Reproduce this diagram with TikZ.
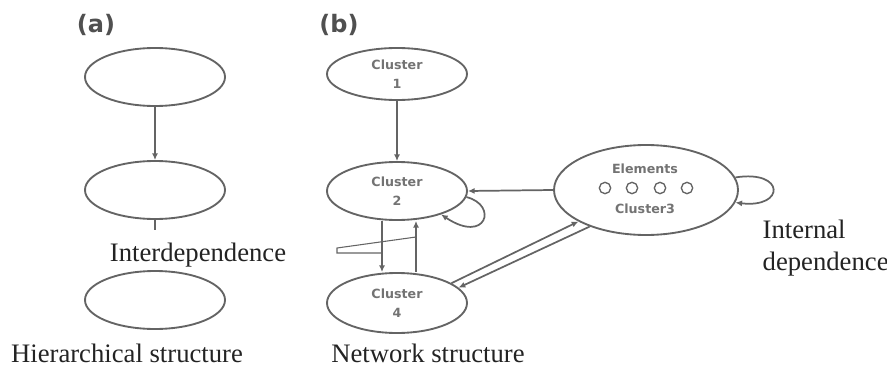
\documentclass[tikz,border=0pt]{standalone}
\usepackage{fontspec}
\setmainfont{Liberation Serif}
\newfontfamily\labelsans{DejaVu Sans}
\usepackage{xcolor}
\usetikzlibrary{shapes.geometric,arrows.meta}
\definecolor{edgegray}{RGB}{100,100,100}
\definecolor{inkgray}{RGB}{35,35,35}
\definecolor{tagcolor}{RGB}{80,80,80}
\definecolor{softgray}{RGB}{115,115,115}

\tikzset{
  cluster/.style={ellipse, draw=edgegray, line width=1.4pt, inner sep=0pt,
    minimum width=105pt, minimum height=43.5pt, align=center,
    font=\labelsans\bfseries\fontsize{9.5}{11}\selectfont, text=softgray},
  link/.style={-{Latex[length=5pt,width=4.5pt]}, line width=1.3pt, draw=edgegray},
  caption/.style={font=\fontsize{20}{24}\selectfont, text=inkgray, anchor=base},
  panel/.style={font=\labelsans\bfseries\fontsize{18}{21}\selectfont, text=tagcolor},
  element/.style={circle, draw=edgegray, line width=1pt, minimum size=8.5pt, inner sep=0pt},
  intext/.style={font=\labelsans\bfseries\fontsize{9.5}{11}\selectfont, text=softgray}
}

\begin{document}
\begin{tikzpicture}[x=0.75pt, y=-0.75pt]
  \useasboundingbox (0,0) rectangle (887,378);

  % (a) hierarchical structure
  \node[panel] (tagA) at (96,25) {(a)};
  \node[cluster] (h1) at (155,77) {};
  \node[cluster] (h2) at (155,190) {};
  \node[cluster] (h3) at (155,300) {};
  \coordinate (hstub) at (155,230);
  \draw[link] (h1) -- (h2);
  \draw[line width=1.3pt, draw=edgegray] (h2) -- (hstub);

  % (b) network structure
  \node[panel] (tagB) at (339,25) {(b)};
  \node[cluster, minimum height=39pt] (c1) at (397,74) {Cluster\\[3pt]1};
  \node[cluster] (c2) at (397,191) {Cluster\\[3pt]2};
  \node[cluster, minimum height=45pt] (c4) at (397,303) {Cluster\\[3pt]4};

  % Cluster 3 with its elements
  \node[cluster, minimum width=138pt, minimum height=67.5pt] (c3) at (646,190) {};
  \node[intext] (elemtxt) at (645,169) {Elements};
  \foreach \i/\x in {1/605,2/632,3/660,4/687}
    \node[element] (e\i) at (\x,188) {};
  \node[intext] (c3name) at (645,209) {Cluster3};

  % Links between clusters
  \draw[link] (c1) -- (c2);
  \draw[link] ([xshift=-11.25pt]c2.south) -- ([xshift=-11.25pt]c4.north);
  \draw[link] ([xshift=14.25pt]c4.north) -- ([xshift=14.25pt]c2.south);
  \draw[link] (c3.west) -- (c2.east);
  \draw[link] (c4.20) -- (c3.205);
  \draw[link] (c3.213) -- (c4.14);

  % Loops
  \draw[link] (c2.-5) .. controls +(32,8) and +(45,30) .. (c2.-28);
  \draw[link] (c3.8) .. controls +(50,-8) and +(50,6) .. (c3.-8);

  % Pointer from the Interdependence label
  \draw[line width=0.8pt, draw=edgegray] (416,237) -- (337,248) -- (337,253) -- (382,253);

  % Captions
  \node[caption] (interdep) at (198,261) {Interdependence};
  \node[caption] (hier) at (127,362) {Hierarchical structure};
  \node[caption] (netw) at (428,362) {Network structure};
  \node[caption, anchor=base west] (intlab1) at (758,238) {Internal};
  \node[caption, anchor=base west] (intlab2) at (758,270) {dependence};
\end{tikzpicture}
\end{document}
